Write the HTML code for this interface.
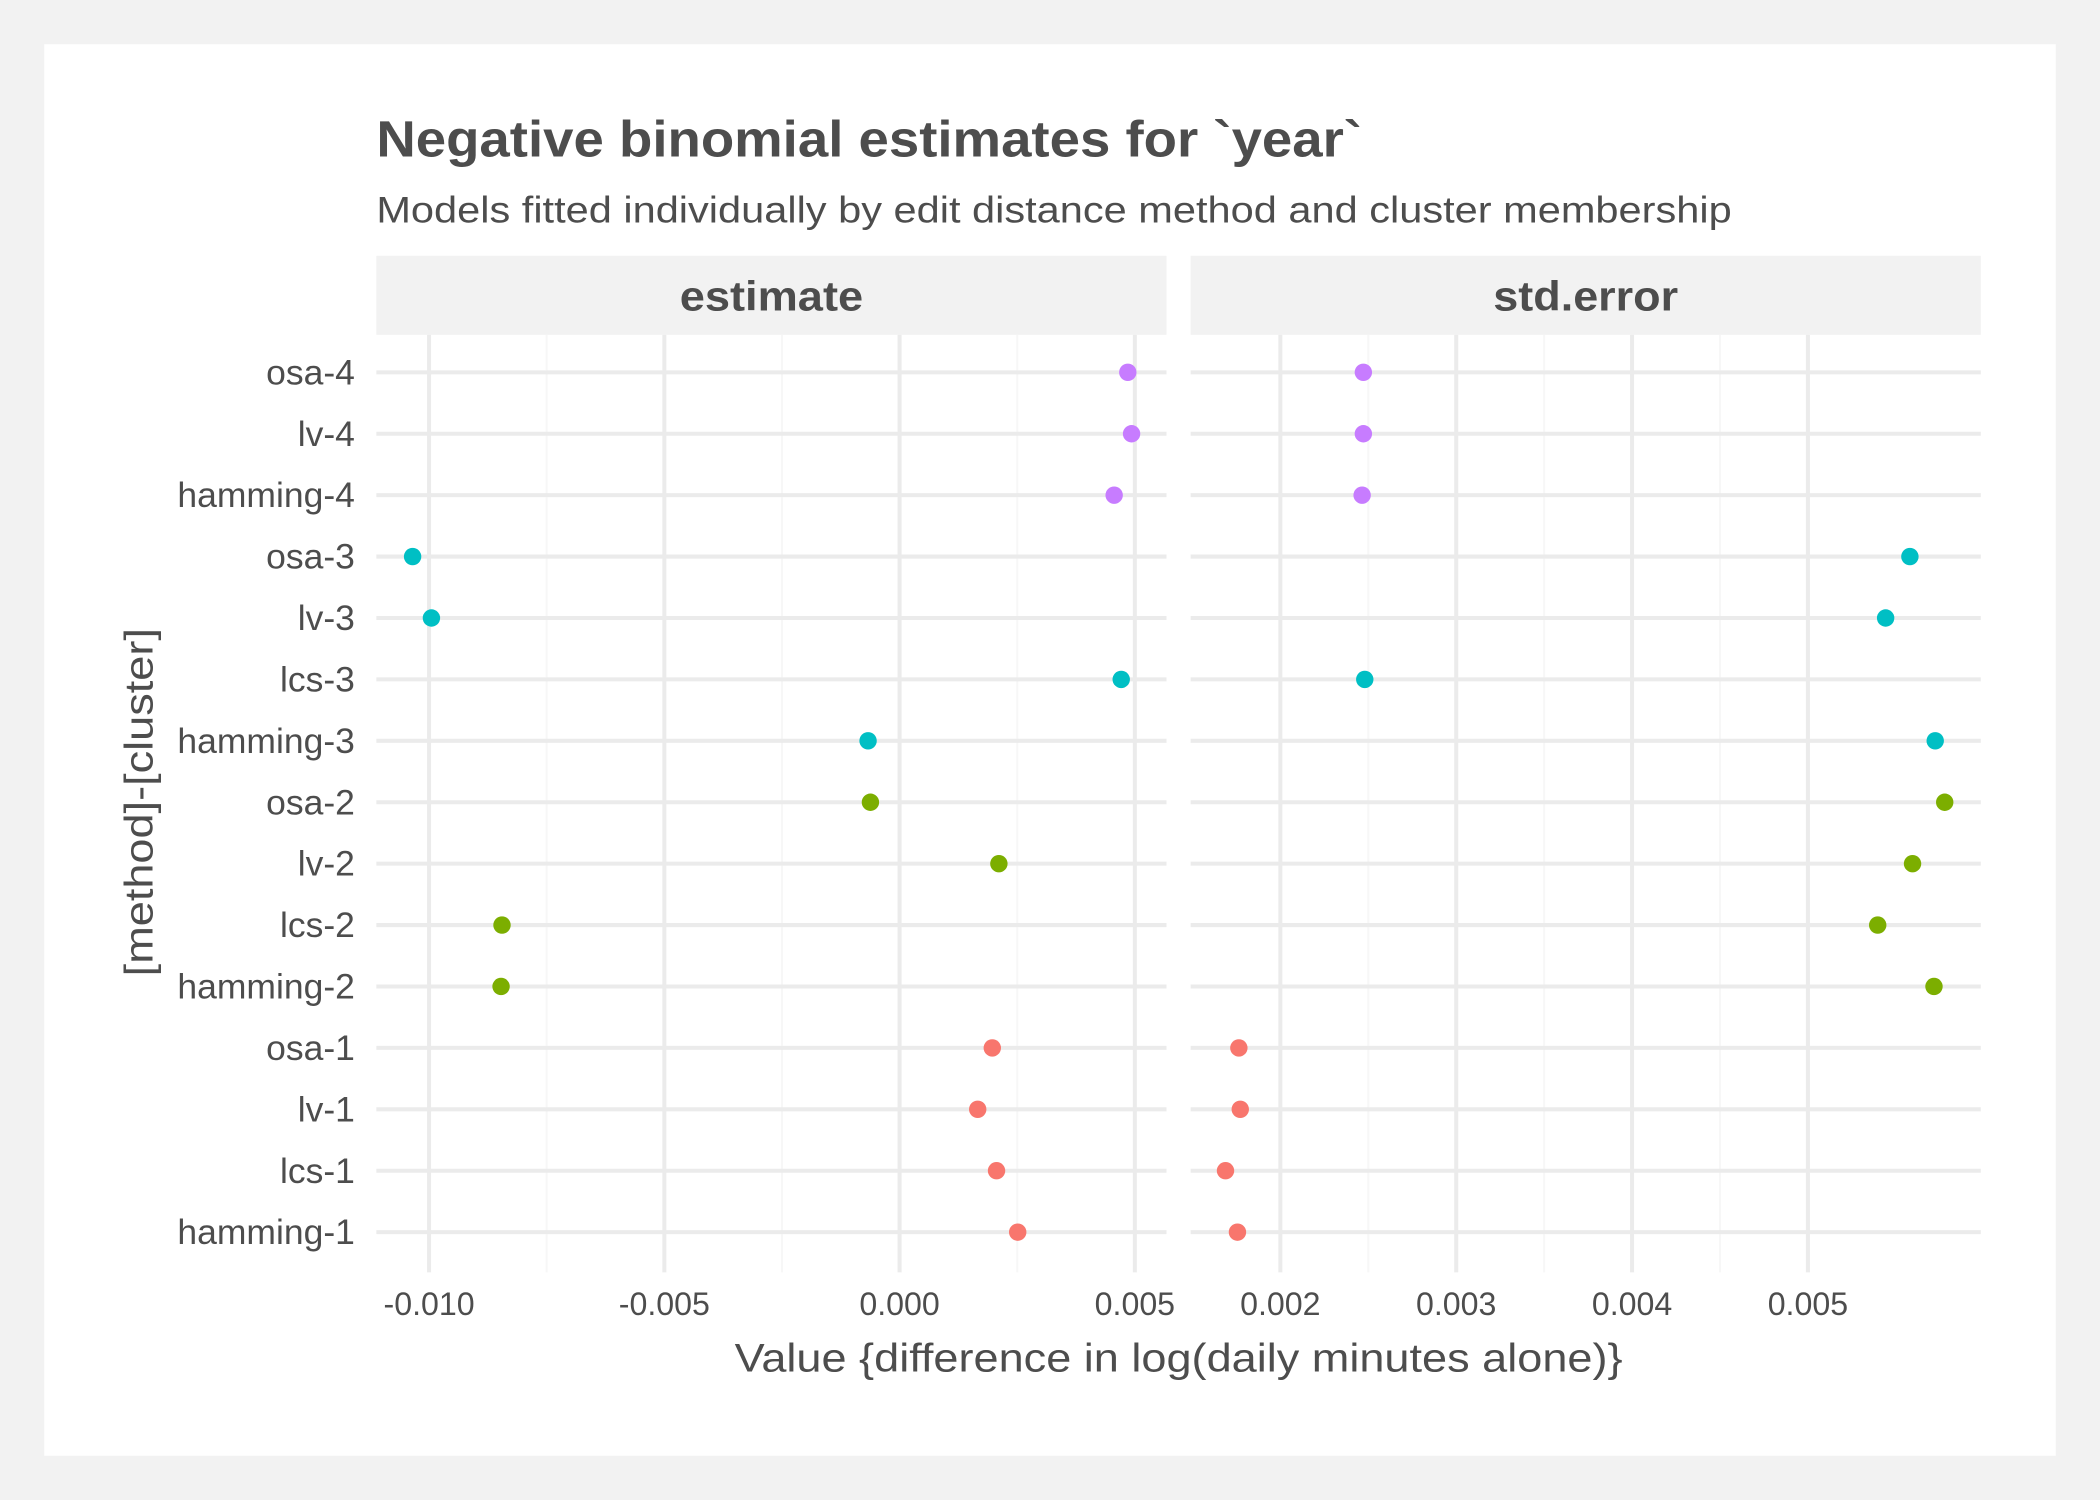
<!DOCTYPE html>
<html><head><meta charset="utf-8"><style>
html,body{margin:0;padding:0;background:#f2f2f2;}
svg{display:block;font-family:"Liberation Sans",Arial,sans-serif;}
</style></head><body>
<svg id="chart" width="2100" height="1500" viewBox="0 0 1568 1120" xmlns="http://www.w3.org/2000/svg">
<rect x="0" y="0" width="1568" height="1120" fill="#f2f2f2"/>
<rect x="33" y="33" width="1502" height="1054" fill="#ffffff"/>
<text x="281" y="117" font-size="38" font-weight="bold" fill="#4d4d4d" textLength="736" lengthAdjust="spacingAndGlyphs">Negative binomial estimates for `year`</text>
<text x="281" y="166" font-size="28" fill="#4d4d4d" textLength="1012" lengthAdjust="spacingAndGlyphs">Models fitted individually by edit distance method and cluster membership</text>
<rect x="281" y="191" width="590" height="59" fill="#f2f2f2"/>
<text x="576" y="232" font-size="31" font-weight="bold" fill="#4d4d4d" text-anchor="middle" textLength="137" lengthAdjust="spacingAndGlyphs">estimate</text>
<rect x="889" y="191" width="590" height="59" fill="#f2f2f2"/>
<text x="1184" y="232" font-size="31" font-weight="bold" fill="#4d4d4d" text-anchor="middle" textLength="138" lengthAdjust="spacingAndGlyphs">std.error</text>
<g id="grid"></g>
<g id="ylabels"></g>
<g id="xlabels"></g>
<g id="points"></g>
<text x="880" y="1024" font-size="30" fill="#4d4d4d" text-anchor="middle" textLength="663" lengthAdjust="spacingAndGlyphs">Value {difference in log(daily minutes alone)}</text>
<text transform="translate(114,599) rotate(-90)" font-size="30" fill="#4d4d4d" text-anchor="middle" textLength="260" lengthAdjust="spacingAndGlyphs">[method]-[cluster]</text>
</svg>
<script>
const categories = ["osa-4","lv-4","hamming-4","osa-3","lv-3","lcs-3","hamming-3","osa-2","lv-2","lcs-2","hamming-2","osa-1","lv-1","lcs-1","hamming-1"];
const clusters = [4,4,4,3,3,3,3,2,2,2,2,1,1,1,1];
const estimateValues = [0.00485,0.00493,0.00456,-0.01035,-0.00995,0.00471,-0.00067,-0.00062,0.00211,-0.00845,-0.00847,0.00197,0.00166,0.00206,0.00251];
const stdErrorValues = [0.002472,0.002472,0.002465,0.005580,0.005442,0.00248,0.005724,0.005778,0.005595,0.005397,0.005717,0.001764,0.001772,0.001688,0.001756];
const estTicks = [-0.010,-0.005,0.000,0.005];
const estTickLabels = ["-0.010","-0.005","0.000","0.005"];
const seTicks = [0.002,0.003,0.004,0.005];
const seTickLabels = ["0.002","0.003","0.004","0.005"];
const colors = {1:"#F8766D",2:"#7CAE00",3:"#00BFC4",4:"#C77CFF"};

const NS="http://www.w3.org/2000/svg";
const xEst = v => 671.7 + v*35133;
const xSe = v => 956 + (v-0.002)*131300;
const yRow = i => 278 + i*(920-278)/(categories.length-1);
const panels=[{x0:281,x1:871,sc:xEst,ticks:estTicks,labels:estTickLabels,vals:estimateValues,name:"estimate"},
              {x0:889,x1:1479,sc:xSe,ticks:seTicks,labels:seTickLabels,vals:stdErrorValues,name:"std-error"}];
function mk(tag,attrs,parent){const e=document.createElementNS(NS,tag);for(const k in attrs)e.setAttribute(k,attrs[k]);document.getElementById(parent).appendChild(e);return e;}
panels.forEach(p=>{
  for(let i=0;i<p.ticks.length-1;i++){
    const x=p.sc((p.ticks[i]+p.ticks[i+1])/2);
    const l=mk("line",{x1:x,x2:x,y1:250,y2:950,stroke:"#f7f7f7","stroke-width":1.5},"grid");
    
    
  }
  p.ticks.forEach((t,i)=>{
    const x=p.sc(t);
    const l=mk("line",{x1:x,x2:x,y1:250,y2:950,stroke:"#ebebeb","stroke-width":3},"grid");
    
    
    const tx=mk("text",{x:x,y:982,"font-size":24,fill:"#4d4d4d","text-anchor":"middle"},"xlabels");
    tx.textContent=p.labels[i];
    
    
  });
  categories.forEach((c,i)=>{
    const y=yRow(i);
    const l=mk("line",{x1:p.x0,x2:p.x1,y1:y,y2:y,stroke:"#ebebeb","stroke-width":3},"grid");
    
    
  });
  p.vals.forEach((v,i)=>{
    const pt=mk("circle",{cx:p.sc(v),cy:yRow(i),r:6.5,fill:colors[clusters[i]]},"points");
    
    
  });
});
categories.forEach((c,i)=>{
  const t=mk("text",{x:265,y:yRow(i)+9,"font-size":26.5,fill:"#4d4d4d","text-anchor":"end"},"ylabels");
  t.textContent=c;
  
  
});
</script>
</body></html>
